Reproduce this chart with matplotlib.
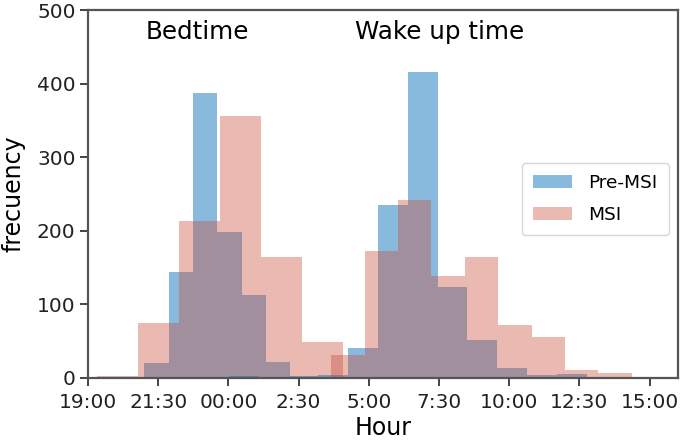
import numpy as np
import matplotlib
matplotlib.use("Agg")
import matplotlib.pyplot as plt

# Histogram bin edges (hours; 24 = midnight, 39 = 15:00 next day) and counts
pre_bed_edges = [21.00, 21.87, 22.73, 23.60, 24.47, 25.33, 26.20]
pre_bed_counts = [20, 144, 388, 198, 113, 21]

msi_bed_edges = [19.31, 20.77, 22.24, 23.70, 25.17, 26.63, 28.09]
msi_bed_counts = [3, 74, 213, 356, 164, 49]

pre_wake_edges = [24.02, 25.08, 26.14, 27.20, 28.27, 29.33, 30.39, 31.45,
                  32.51, 33.57, 34.63, 35.70, 36.76]
pre_wake_counts = [2, 0, 3, 4, 40, 235, 416, 123, 52, 14, 4, 5]

msi_wake_edges = [27.67, 28.86, 30.05, 31.23, 32.42, 33.61, 34.80, 35.99,
                  37.17, 38.36]
msi_wake_counts = [31, 172, 242, 138, 165, 72, 55, 11, 6]

xtick_pos = [19, 21.5, 24, 26.5, 29, 31.5, 34, 36.5, 39]
xtick_labels = ["19:00", "21:30", "00:00", "2:30", "5:00", "7:30", "10:00",
                "12:30", "15:00"]

blue = "#1377bd"
pink = "#c8503f"

fig = plt.figure(figsize=(6.88, 4.42), dpi=100)
ax = fig.add_axes([0.128, 0.145, 0.857, 0.832])

def draw(edges, counts, color, alpha, label=None):
    e = np.asarray(edges)
    ax.hist(e[:-1], bins=e, weights=counts, color=color, alpha=alpha,
            label=label)

draw(pre_bed_edges, pre_bed_counts, blue, 0.5, "Pre-MSI")
draw(msi_bed_edges, msi_bed_counts, pink, 0.4, "MSI")
draw(pre_wake_edges, pre_wake_counts, blue, 0.5)
draw(msi_wake_edges, msi_wake_counts, pink, 0.4)

ax.set_xlim(19, 40)
ax.set_ylim(0, 500)
ax.set_xticks(xtick_pos)
ax.set_xticklabels(xtick_labels)
ax.set_yticks([0, 100, 200, 300, 400, 500])
ax.tick_params(labelsize=14.5, length=6, width=1.2, colors="#222222")
ax.tick_params(axis="x", pad=5)
ax.tick_params(axis="y", pad=3)
for s in ax.spines.values():
    s.set_linewidth(1.6)
    s.set_color("#555555")

ax.set_xlabel("Hour", fontsize=17, labelpad=3)
ax.set_ylabel("frecuency", fontsize=17, labelpad=8)

ax.text(22.9, 470, "Bedtime", fontsize=17.7, ha="center", va="center")
ax.text(31.53, 470, "Wake up time", fontsize=17.7, ha="center", va="center")

leg = ax.legend(loc="upper left", bbox_to_anchor=(0.7356, 0.584),
                borderaxespad=0, fontsize=13.3, handlelength=2.1,
                handleheight=0.7, borderpad=0.6, labelspacing=0.75,
                handletextpad=0.9)

fig.savefig("out.png", dpi=100)
